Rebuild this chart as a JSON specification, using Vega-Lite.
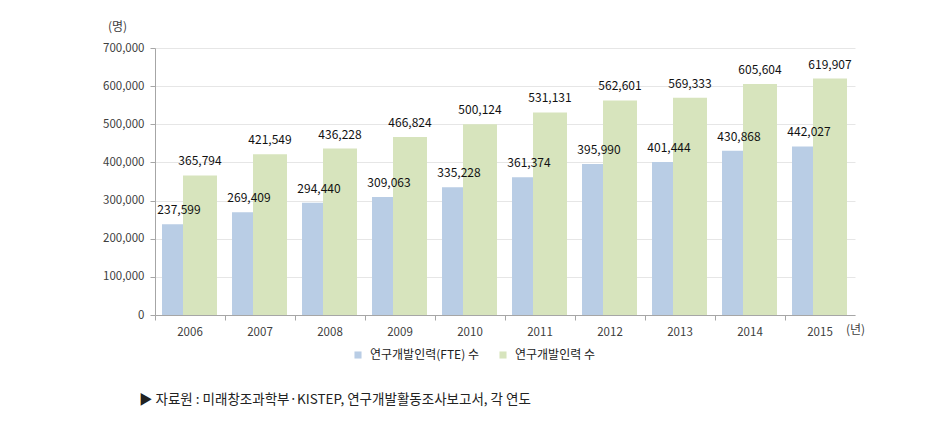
{
  "$schema": "https://vega.github.io/schema/vega-lite/v6.json",
  "width": 700,
  "height": 267,
  "autosize": "none",
  "padding": {"left": 155, "top": 48, "right": 93, "bottom": 106},
  "background": "white",
  "config": {
    "view": {"stroke": null},
    "font": "Noto Sans CJK KR",
    "axis": {"labelFont": "Noto Sans CJK KR", "titleFont": "Noto Sans CJK KR"}
  },
  "title": {
    "text": "▶ 자료원 : 미래창조과학부·KISTEP, 연구개발활동조사보고서, 각 연도",
    "orient": "bottom",
    "anchor": "start",
    "frame": "group",
    "dx": -16,
    "offset": 32,
    "fontSize": 13.5,
    "fontWeight": "normal",
    "color": "#222222",
    "font": "Noto Sans CJK KR"
  },
  "data": {
    "values": [
      {"year": "2006", "type": "연구개발인력(FTE) 수", "value": 237599},
      {"year": "2007", "type": "연구개발인력(FTE) 수", "value": 269409},
      {"year": "2008", "type": "연구개발인력(FTE) 수", "value": 294440},
      {"year": "2009", "type": "연구개발인력(FTE) 수", "value": 309063},
      {"year": "2010", "type": "연구개발인력(FTE) 수", "value": 335228},
      {"year": "2011", "type": "연구개발인력(FTE) 수", "value": 361374},
      {"year": "2012", "type": "연구개발인력(FTE) 수", "value": 395990},
      {"year": "2013", "type": "연구개발인력(FTE) 수", "value": 401444},
      {"year": "2014", "type": "연구개발인력(FTE) 수", "value": 430868},
      {"year": "2015", "type": "연구개발인력(FTE) 수", "value": 442027},
      {"year": "2006", "type": "연구개발인력 수", "value": 365794},
      {"year": "2007", "type": "연구개발인력 수", "value": 421549},
      {"year": "2008", "type": "연구개발인력 수", "value": 436228},
      {"year": "2009", "type": "연구개발인력 수", "value": 466824},
      {"year": "2010", "type": "연구개발인력 수", "value": 500124},
      {"year": "2011", "type": "연구개발인력 수", "value": 531131},
      {"year": "2012", "type": "연구개발인력 수", "value": 562601},
      {"year": "2013", "type": "연구개발인력 수", "value": 569333},
      {"year": "2014", "type": "연구개발인력 수", "value": 605604},
      {"year": "2015", "type": "연구개발인력 수", "value": 619907}
    ]
  },
  "encoding": {
    "x": {
      "field": "year",
      "type": "ordinal",
      "scale": {"type": "band", "paddingInner": 0, "paddingOuter": 0},
      "axis": {
        "title": "(년)",
        "titleX": 700,
        "titleY": 14,
        "titleAlign": "center",
        "titleBaseline": "middle",
        "titleFontSize": 12,
        "titleFontWeight": "normal",
        "titleColor": "#404040",
        "labelAngle": 0,
        "labelFontSize": 11.5,
        "labelColor": "#404040",
        "labelPadding": 6,
        "bandPosition": 0,
        "tickSize": 5,
        "tickColor": "#a6a6a6",
        "domainColor": "#a6a6a6",
        "grid": false
      }
    },
    "y": {
      "field": "value",
      "type": "quantitative",
      "scale": {"domain": [0, 700000], "nice": false},
      "axis": {
        "title": "(명)",
        "titleAngle": 0,
        "titleX": -38,
        "titleY": -22,
        "titleAlign": "center",
        "titleBaseline": "middle",
        "titleFontSize": 12,
        "titleFontWeight": "normal",
        "titleColor": "#404040",
        "values": [0, 100000, 200000, 300000, 400000, 500000, 600000, 700000],
        "format": ",d",
        "labelFontSize": 11.5,
        "labelColor": "#404040",
        "labelPadding": 6,
        "tickSize": 5,
        "tickColor": "#a6a6a6",
        "domainColor": "#a6a6a6",
        "gridColor": "#e6e6e6"
      }
    }
  },
  "layer": [
    {
      "transform": [{"filter": "datum.type === '연구개발인력(FTE) 수'"}],
      "mark": {"type": "bar", "width": 34, "xOffset": -11},
      "encoding": {
        "color": {
          "field": "type",
          "type": "nominal",
          "scale": {"domain": ["연구개발인력(FTE) 수", "연구개발인력 수"], "range": ["#B9CDE5", "#D7E4BD"]},
          "legend": {
            "title": null,
            "orient": "none",
            "direction": "horizontal",
            "legendX": 197,
            "legendY": 301,
            "symbolType": "square",
            "symbolSize": 50,
            "symbolStrokeWidth": 0,
            "labelFontSize": 12,
            "labelColor": "#222222",
            "labelOffset": 6,
            "columnPadding": 18
          }
        }
      }
    },
    {
      "transform": [{"filter": "datum.type === '연구개발인력 수'"}],
      "mark": {"type": "bar", "width": 34, "xOffset": 10},
      "encoding": {
        "color": {"field": "type", "type": "nominal"}
      }
    },
    {
      "transform": [{"filter": "datum.type === '연구개발인력(FTE) 수'"}],
      "mark": {"type": "text", "xOffset": -11, "dy": -7, "baseline": "bottom", "fontSize": 12, "color": "#111111"},
      "encoding": {"text": {"field": "value", "type": "quantitative", "format": ","}}
    },
    {
      "transform": [{"filter": "datum.type === '연구개발인력 수'"}],
      "mark": {"type": "text", "xOffset": 10, "dy": -7, "baseline": "bottom", "fontSize": 12, "color": "#111111"},
      "encoding": {"text": {"field": "value", "type": "quantitative", "format": ","}}
    }
  ]
}
